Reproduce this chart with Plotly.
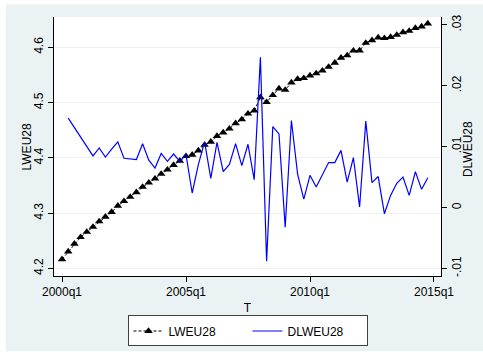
import plotly.graph_objects as go

# Quarterly periods 2000q1 .. 2014q4 (Stata %tq numbering: 2000q1 = 160)
years = list(range(2000, 2015))
quarters = [f"{y}q{q}" for y in years for q in range(1, 5)]
tq = [(int(s[:4]) - 1960) * 4 + int(s[-1]) - 1 for s in quarters]

# Log of the EU28 index
LWEU28 = [
    4.2165, 4.2305, 4.2446, 4.2565, 4.2660, 4.2752, 4.2850, 4.2934, 4.3020, 4.3133,
    4.3218, 4.3294, 4.3378, 4.3475, 4.3552, 4.3624, 4.3710, 4.3786, 4.3870, 4.3948,
    4.4030, 4.4056, 4.4133, 4.4235, 4.4291, 4.4394, 4.4457, 4.4528, 4.4625, 4.4695,
    4.4800, 4.4853, 4.5096, 4.5008, 4.5133, 4.5254, 4.5229, 4.5363, 4.5426, 4.5442,
    4.5489, 4.5527, 4.5577, 4.5645, 4.5720, 4.5811, 4.5853, 4.5939, 4.5940, 4.6079,
    4.6126, 4.6176, 4.6165, 4.6186, 4.6224, 4.6270, 4.6295, 4.6348, 4.6375, 4.6430,
]

# Quarterly change of the log index (missing for the first quarter)
DLWEU28 = [
    None,
    0.0147, 0.0132, 0.0116, 0.0101, 0.0085, 0.0098, 0.0083, 0.0096, 0.0108, 0.0081,
    0.0080, 0.0079, 0.0105, 0.0078, 0.0065, 0.0089, 0.0076, 0.0088, 0.0076, 0.0087,
    0.0024, 0.0071, 0.0108, 0.0048, 0.0107, 0.0059, 0.0071, 0.0105, 0.0069, 0.0104,
    0.0046, 0.0247, -0.0088, 0.0133, 0.0121, -0.0032, 0.0143, 0.0055, 0.0014, 0.0053,
    0.0034, 0.0053, 0.0074, 0.0074, 0.0094, 0.0042, 0.0082, 0.0001, 0.0142, 0.0041,
    0.0051, -0.0010, 0.0020, 0.0040, 0.0050, 0.0020, 0.0059, 0.0030, 0.0049,
]

x_tickvals = [160, 180, 200, 220]
x_ticktext = ["2000q1", "2005q1", "2010q1", "2015q1"]
y1_tickvals = [4.2, 4.3, 4.4, 4.5, 4.6]
y1_ticktext = ["4.2", "4.3", "4.4", "4.5", "4.6"]
y2_tickvals = [-0.01, 0.0, 0.01, 0.02, 0.03]
y2_ticktext = ["-.01", "0", ".01", ".02", ".03"]

REGION = "#EAF2F3"
FONT = "Liberation Sans, Arial, sans-serif"

fig = go.Figure()
fig.add_trace(go.Scatter(
    x=tq, y=LWEU28, name="LWEU28", mode="lines+markers",
    line=dict(color="black", width=1, dash="3px,2px"),
    marker=dict(symbol="triangle-up", size=7.5, color="black"),
    yaxis="y",
))
fig.add_trace(go.Scatter(
    x=tq, y=DLWEU28, name="DLWEU28", mode="lines",
    line=dict(color="#0000FF", width=1.2),
    yaxis="y2",
))

axis_common = dict(
    showline=True, linecolor="black", linewidth=1,
    ticks="outside", ticklen=5, tickwidth=1, tickcolor="black",
    zeroline=False, tickfont=dict(size=12, color="black", family=FONT),
)

fig.update_layout(
    width=483, height=358,
    margin=dict(l=54, r=42, t=17, b=79, pad=0),
    paper_bgcolor=REGION, plot_bgcolor="white",
    font=dict(family=FONT, size=12, color="black"),
    xaxis=dict(
        range=[158.71, 221.13], tickvals=x_tickvals, ticktext=x_ticktext,
        showgrid=False,
        title=dict(text="T", standoff=5, font=dict(size=12)),
        **axis_common,
    ),
    yaxis=dict(
        range=[4.1864, 4.6548], tickvals=y1_tickvals, ticktext=y1_ticktext,
        tickangle=-90, showgrid=True, gridcolor=REGION, gridwidth=1,
        **axis_common,
    ),
    yaxis2=dict(
        range=[-0.01123, 0.0313], tickvals=y2_tickvals, ticktext=y2_ticktext,
        tickangle=-90, showgrid=False, overlaying="y", side="right",
        **axis_common,
    ),
    showlegend=True,
    legend=dict(
        orientation="h", x=0.5, xanchor="center", y=-0.1525, yanchor="top",
        bgcolor="white", bordercolor="#404040", borderwidth=1,
        font=dict(size=12, family=FONT), entrywidth=74, traceorder="normal",
    ),
    annotations=[
        # axis titles, both reading bottom-to-top
        dict(text="LWEU28", xref="paper", yref="paper", x=-0.0698, y=0.5,
             xanchor="center", yanchor="middle", textangle=-90,
             showarrow=False, font=dict(size=12, family=FONT, color="black")),
        dict(text="DLWEU28", xref="paper", yref="paper", x=1.0698, y=0.49,
             xanchor="center", yanchor="middle", textangle=-90,
             showarrow=False, font=dict(size=12, family=FONT, color="black")),
    ],
    shapes=[
        # thin white frame around the graph region
        dict(type="rect", xref="paper", yref="paper", x0=-0.3, x1=-0.124,
             y0=-0.5, y1=1.5, fillcolor="white", line_width=0, layer="below"),
        dict(type="rect", xref="paper", yref="paper", x0=-0.3, x1=1.3,
             y0=1.0496, y1=1.3, fillcolor="white", line_width=0, layer="below"),
        dict(type="rect", xref="paper", yref="paper", x0=-0.3, x1=1.3,
             y0=-0.5, y1=-0.2901, fillcolor="white", line_width=0, layer="below"),
    ],
)

fig.write_html("out.html")
